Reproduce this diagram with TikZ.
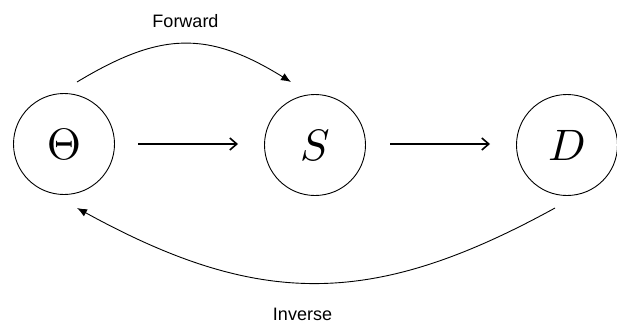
\documentclass[tikz,border=0pt]{standalone}
\usepackage{graphicx}
\usepackage{fontspec}
\setsansfont{Liberation Sans}
\usetikzlibrary{arrows.meta}
\newcommand{\bigmath}[1]{\scalebox{4.4}{$#1$}}
\begin{document}
\begin{tikzpicture}[x=1pt,y=-1pt,
  state/.style={circle,draw,line width=0.9pt,minimum size=101pt,inner sep=0pt},
  flow/.style={line width=1.6pt,-{Straight Barb[length=7pt,width=12pt,line width=1.6pt]}},
  loop/.style={line width=0.9pt,-{Latex[length=10pt,width=8pt]}},
  lbl/.style={font=\sffamily\fontsize{18}{20}\selectfont,inner sep=0pt}]
\useasboundingbox (0,0) rectangle (617,324);
\node[state] (th) at (64,144) {\bigmath{\Theta}};
\node[state] (s) at (315,145) {\bigmath{S}};
\node[state] (d) at (567,145) {\bigmath{D}};
\coordinate (a1) at (138,144);
\coordinate (a2) at (238,144);
\coordinate (b1) at (390,144);
\coordinate (b2) at (490,144);
\draw[flow] (a1) -- (a2);
\draw[flow] (b1) -- (b2);
\coordinate (f1) at (77,82);
\coordinate (f2) at (291,82);
\draw[loop] (f1) .. controls (160,32) and (207,30) .. (f2);
\coordinate (i1) at (555,208);
\coordinate (i2) at (77,208);
\draw[loop] (i1) .. controls (373,308) and (259,308) .. (i2);
\node[lbl] (fw) at (185.5,21) {Forward};
\node[lbl] (iv) at (302.5,314) {Inverse};
\end{tikzpicture}
\end{document}
